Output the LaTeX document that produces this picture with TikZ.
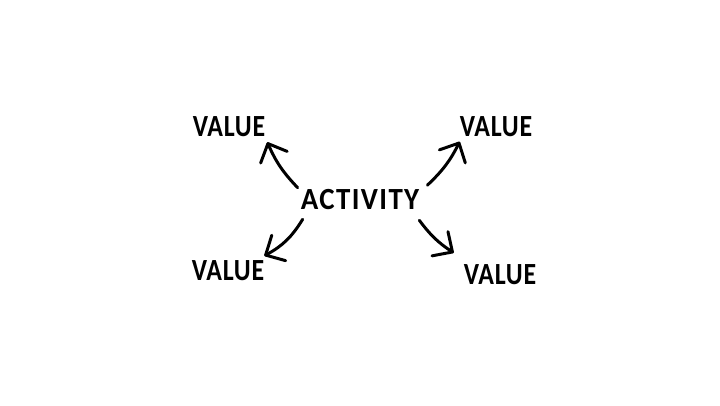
\documentclass[tikz,border=0pt]{standalone}
\usepackage{fontspec}
\setmainfont{Carlito}
\usetikzlibrary{arrows.meta}
\newfontfamily\handfont[FakeStretch=0.84,LetterSpace=2.5]{Carlito}
\newfontfamily\widehandfont[FakeStretch=0.94,LetterSpace=4.5]{Carlito}
\begin{document}
\begin{tikzpicture}[word/.style={inner sep=1pt,font=\handfont\bfseries\fontsize{17.5}{20}\selectfont},
    wideword/.style={word,font=\widehandfont\bfseries\fontsize{17.5}{20}\selectfont},
    arrowline/.style={line width=1.7pt,line cap=round,-{Straight Barb[length=8.5pt,width=16.5pt,line width=1.7pt,round]}}]
        \useasboundingbox (0,0) rectangle (14.4,8.1);
        \node at (7.2,4.1) [wideword] (activity) {ACTIVITY};
        \node at (4.58,5.56) [word] (valuetl) {VALUE};
        \node at (9.92,5.56) [word] (valuetr) {VALUE};
        \node at (4.56,2.68) [word] (valuebl) {VALUE};
        \node at (10,2.6) [word] (valuebr) {VALUE};
        % arrows out of the centre
        \draw[arrowline] ([shift={(-0.02,0)}]activity.north west) to[bend left=10] ([shift={(0,-0.06)}]valuetl.south east);
        \draw[arrowline] ([shift={(0.12,0.05)}]activity.north east) to[bend right=10] ([shift={(0.04,-0.05)}]valuetr.south west);
        \draw[arrowline] ([shift={(0.08,-0.14)}]activity.south west) to[bend left=15] ([shift={(-0.04,0.06)}]valuebl.north east);
        \draw[arrowline] ([shift={(-0.04,-0.16)}]activity.south east) to[bend right=10] ([shift={(-0.16,0.2)}]valuebr.north west);
\end{tikzpicture}
\end{document}
